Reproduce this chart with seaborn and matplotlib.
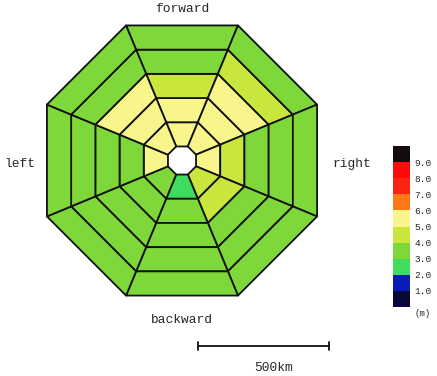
import numpy as np
import matplotlib
matplotlib.use("Agg")
import matplotlib.pyplot as plt
from matplotlib.collections import PolyCollection
from matplotlib.colors import ListedColormap, BoundaryNorm
import seaborn as sns

# ---------------- data ----------------
sectors = ["forward", "forward-right", "right", "backward-right",
           "backward", "backward-left", "left", "forward-left"]
sector_angle_deg = [90, 45, 0, -45, -90, -135, 180, 135]
ring_edges_km = [58, 158, 258, 358, 458, 558]   # circumradius of ring boundaries

# values (m) per sector, inner ring -> outer ring
val_forward        = [5.5, 5.4, 4.6, 3.7, 3.6]
val_forward_right  = [5.5, 5.4, 5.3, 4.4, 3.7]
val_right          = [5.4, 4.4, 3.8, 3.7, 3.6]
val_backward_right = [4.5, 4.4, 3.8, 3.7, 3.6]
val_backward       = [2.8, 3.6, 3.6, 3.6, 3.6]
val_backward_left  = [3.7, 3.6, 3.6, 3.6, 3.6]
val_left           = [5.3, 3.7, 3.6, 3.6, 3.6]
val_forward_left   = [5.5, 5.4, 5.3, 3.8, 3.6]

level_bounds = [0, 1, 2, 3, 4, 5, 6, 7, 8, 9, 10]
level_ticks = [1, 2, 3, 4, 5, 6, 7, 8, 9]
level_colors = ["#0a0838", "#0a1cb8", "#40dc5e", "#7ed83a", "#c8e63c",
                "#f8f68a", "#ff7818", "#fa2410", "#ff0a0a", "#140c0c"]
scale_km = 500

# ---------------- style ----------------
sns.set_theme(style="white")
plt.rcParams['font.family'] = ['Liberation Mono', 'DejaVu Sans Mono']

W, H = 437, 376
fig = plt.figure(figsize=(W / 100, H / 100), dpi=100)
fig.patch.set_facecolor("white")

px_per_km = 0.262
cx, cy = 182, 160.5
ax = fig.add_axes([0, 0, 1, 1])
ax.set_xlim(-cx / px_per_km, (W - cx) / px_per_km)
ax.set_ylim(-(H - cy) / px_per_km, cy / px_per_km)
ax.set_aspect("auto")
ax.axis("off")

values = [val_forward, val_forward_right, val_right, val_backward_right,
          val_backward, val_backward_left, val_left, val_forward_left]

cmap = ListedColormap(sns.color_palette(level_colors))
norm = BoundaryNorm(level_bounds, cmap.N)

polys, vals = [], []
for ang, vrow in zip(sector_angle_deg, values):
    a1 = np.deg2rad(ang - 22.5)
    a2 = np.deg2rad(ang + 22.5)
    for i, v in enumerate(vrow):
        r0, r1 = ring_edges_km[i], ring_edges_km[i + 1]
        polys.append([(r0 * np.cos(a1), r0 * np.sin(a1)),
                      (r1 * np.cos(a1), r1 * np.sin(a1)),
                      (r1 * np.cos(a2), r1 * np.sin(a2)),
                      (r0 * np.cos(a2), r0 * np.sin(a2))])
        vals.append(v)

pc = PolyCollection(polys, array=np.array(vals), cmap=cmap, norm=norm,
                    edgecolors="#111111", linewidths=1.3)
ax.add_collection(pc)

# direction labels
fs = 9.3
ax.text(0, 580, "forward", ha="center", va="center", fontsize=fs)
ax.text(0, -609, "backward", ha="center", va="center", fontsize=fs)
ax.text(-618, -13, "left", ha="center", va="center", fontsize=fs)
ax.text(650, -13, "right", ha="center", va="center", fontsize=fs)

# scale bar
x0 = 61
yb = -708
ax.plot([x0, x0 + scale_km], [yb, yb], color="#111111", lw=1.3)
for xe in (x0, x0 + scale_km):
    ax.plot([xe, xe], [yb - 14, yb + 14], color="#111111", lw=1.3)
ax.text(x0 + scale_km / 2 + 40, -792, f"{scale_km}km", ha="center",
        va="center", fontsize=fs)

# colorbar
cax = fig.add_axes([393 / W, (H - 307) / H, 17 / W, 161 / H])
cb = fig.colorbar(pc, cax=cax, boundaries=level_bounds, ticks=level_ticks)
cb.outline.set_visible(False)
cb.ax.minorticks_off()
cb.ax.tick_params(which="both", length=0, labelsize=6.8, pad=3)
cb.ax.set_yticks(level_ticks)
cb.ax.set_yticklabels([f"{t:.1f}" for t in level_ticks])
fig.text(423 / W, 1 - 314 / H, "(m)", ha="center", va="center", fontsize=6.5)

fig.savefig("out.png", dpi=100, facecolor="white")
